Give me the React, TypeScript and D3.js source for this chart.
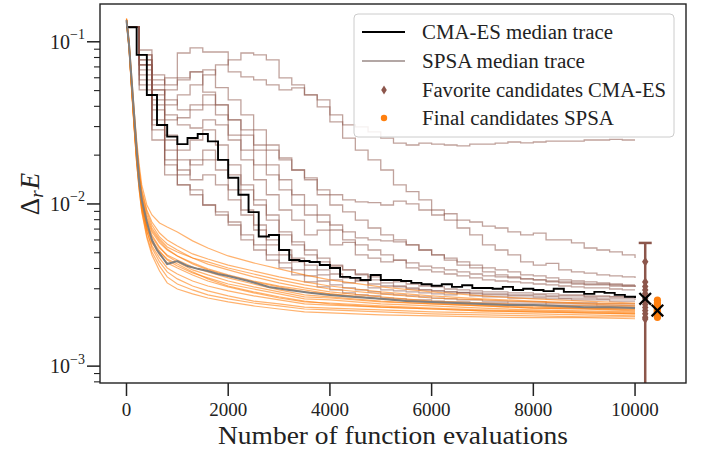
import React from 'react';
import * as d3 from 'd3';

const W = 702;
const H = 454;
const PL = 100, PR = 686, PT = 4, PB = 383;

const xDomain = [-521, 11002];
const yDomain = [7.87e-4, 0.171];
const xTicks = [0, 2000, 4000, 6000, 8000, 10000];
const yMajorExp = [-3, -2, -1];

// CMA-ES traces: one value per generation block of 250 evaluations (0..10000)
const CMA_STEP = 250;
const cmaT1 = [0.123,0.0720,0.0542,0.0599,0.0853,0.0916,0.0865,0.0865,0.0652,0.0608,0.0582,0.0542,0.0505,0.0520,0.0470,0.0438,0.0354,0.0307,0.0299,0.0278,0.0255,0.0237,0.0231,0.0237,0.0234,0.0231,0.0228,0.0234,0.0234,0.0237,0.0241,0.0238,0.0241,0.0244,0.0244,0.0244,0.0248,0.0248,0.0250,0.0248,0.0248];
const cmaT2 = [0.123,0.0830,0.0625,0.0542,0.0599,0.0652,0.0490,0.0408,0.0330,0.0286,0.0231,0.0215,0.0192,0.0162,0.0145,0.0122,0.0114,0.0106,0.0103,0.0102,0.00985,0.0104,0.0100,0.00918,0.00855,0.00870,0.00796,0.00774,0.00731,0.00711,0.00672,0.00644,0.00660,0.00600,0.00600,0.00575,0.00535,0.00520,0.00506,0.00485,0.00464];
const cmaT3 = [0.123,0.0773,0.0505,0.0408,0.0470,0.0542,0.0625,0.0720,0.0773,0.0853,0.0830,0.0773,0.0599,0.0542,0.0470,0.0397,0.0321,0.0255,0.0215,0.0187,0.0162,0.0131,0.0119,0.0106,0.00918,0.00796,0.00711,0.00644,0.00559,0.00520,0.00485,0.00439,0.00420,0.00430,0.00392,0.00381,0.00375,0.00365,0.00360,0.00355,0.00350];
const cmaT4 = [0.123,0.0720,0.0470,0.0505,0.0582,0.0652,0.0671,0.0521,0.0438,0.0354,0.0286,0.0231,0.0187,0.0162,0.0141,0.0114,0.00985,0.00893,0.00796,0.00711,0.00644,0.00600,0.00559,0.00520,0.00485,0.00464,0.00439,0.00420,0.00403,0.00392,0.00381,0.00365,0.00360,0.00350,0.00340,0.00335,0.00331,0.00326,0.00321,0.00317,0.00317];
const cmaT5 = [0.123,0.0890,0.0505,0.0354,0.0307,0.0294,0.0330,0.0307,0.0248,0.0187,0.0141,0.0114,0.00918,0.00796,0.00644,0.00690,0.00559,0.00580,0.00485,0.00464,0.00439,0.00450,0.00403,0.00392,0.00381,0.00370,0.00360,0.00350,0.00340,0.00335,0.00331,0.00326,0.00321,0.00317,0.00312,0.00308,0.00304,0.00304,0.00299,0.00295,0.00295];
const cmaT6 = [0.123,0.0671,0.0380,0.0266,0.0215,0.0248,0.0286,0.0231,0.0174,0.0131,0.0106,0.00855,0.00644,0.00559,0.00485,0.00439,0.00414,0.00392,0.00370,0.00355,0.00340,0.00331,0.00321,0.00312,0.00308,0.00299,0.00295,0.00291,0.00287,0.00287,0.00283,0.00283,0.00279,0.00279,0.00275,0.00275,0.00271,0.00271,0.00267,0.00267,0.00263];
const cmaT7 = [0.123,0.0582,0.0330,0.0215,0.0162,0.0141,0.0151,0.0131,0.0106,0.00855,0.00691,0.00559,0.00485,0.00439,0.00392,0.00365,0.00340,0.00326,0.00340,0.00304,0.00295,0.00291,0.00287,0.00283,0.00279,0.00275,0.00285,0.00271,0.00267,0.00267,0.00263,0.00263,0.00263,0.00260,0.00260,0.00256,0.00256,0.00256,0.00252,0.00252,0.00252];
const cmaT8 = [0.123,0.0625,0.0307,0.0187,0.0131,0.0122,0.00985,0.00855,0.00742,0.00600,0.00520,0.00451,0.00403,0.00365,0.00331,0.00308,0.00295,0.00283,0.00275,0.00271,0.00263,0.00260,0.00256,0.00256,0.00252,0.00249,0.00249,0.00245,0.00245,0.00245,0.00242,0.00242,0.00242,0.00238,0.00238,0.00238,0.00238,0.00235,0.00235,0.00235,0.00235];
const cmaT9 = [0.123,0.0773,0.0438,0.0330,0.0340,0.0380,0.0408,0.0354,0.0266,0.0215,0.0174,0.0151,0.0122,0.00985,0.00855,0.00774,0.00691,0.00600,0.00559,0.00520,0.00485,0.00451,0.00433,0.00414,0.00403,0.00392,0.00381,0.00370,0.00360,0.00355,0.00350,0.00345,0.00340,0.00335,0.00331,0.00326,0.00321,0.00321,0.00317,0.00312,0.00308];
const cmaT10 = [0.123,0.0542,0.0286,0.0174,0.0151,0.0187,0.0215,0.0187,0.0151,0.0122,0.00985,0.00796,0.00672,0.00583,0.00520,0.00464,0.00420,0.00392,0.00365,0.00340,0.00326,0.00312,0.00304,0.00295,0.00291,0.00287,0.00283,0.00279,0.00275,0.00275,0.00271,0.00271,0.00267,0.00267,0.00263,0.00263,0.00263,0.00260,0.00260,0.00260,0.00256];
const cmaT11 = [0.123,0.0830,0.0582,0.0438,0.0380,0.0408,0.0470,0.0408,0.0330,0.0266,0.0215,0.0174,0.0141,0.0114,0.00985,0.00855,0.00742,0.00672,0.00617,0.00600,0.00592,0.00583,0.00559,0.00520,0.00485,0.00451,0.00420,0.00403,0.00381,0.00365,0.00355,0.00345,0.00340,0.00331,0.00326,0.00321,0.00317,0.00317,0.00312,0.00312,0.00308];
const cmaT12 = [0.123,0.0720,0.0408,0.0248,0.0187,0.0174,0.0187,0.0162,0.0122,0.00918,0.00742,0.00600,0.00520,0.00464,0.00420,0.00392,0.00370,0.00350,0.00335,0.00321,0.00312,0.00308,0.00299,0.00295,0.00291,0.00287,0.00283,0.00283,0.00279,0.00279,0.00275,0.00275,0.00275,0.00271,0.00271,0.00271,0.00267,0.00267,0.00267,0.00267,0.00267];
const cmaT13 = [0.123,0.0505,0.0248,0.0151,0.0131,0.0114,0.00985,0.00893,0.00774,0.00644,0.00559,0.00485,0.00433,0.00392,0.00360,0.00335,0.00317,0.00304,0.00295,0.00287,0.00279,0.00275,0.00271,0.00267,0.00263,0.00260,0.00256,0.00256,0.00252,0.00252,0.00249,0.00249,0.00249,0.00245,0.00245,0.00245,0.00245,0.00242,0.00242,0.00242,0.00242];
const cmaTraces = [cmaT1, cmaT2, cmaT3, cmaT4, cmaT5, cmaT6, cmaT7, cmaT8, cmaT9, cmaT10, cmaT11, cmaT12, cmaT13];

// CMA-ES median trace, one value per 200 evaluations
const MED_STEP = 200;
const cmaMedian = [0.123,0.083,0.047,0.0307,0.026,0.0234,0.0255,0.027,0.0243,0.0187,0.0145,0.0114,0.0089,0.0063,0.00644,0.0052,0.00451,0.00445,0.00439,0.0042,0.00403,0.00355,0.0035,0.0034,0.00365,0.0034,0.0034,0.00335,0.00326,0.0032,0.00313,0.0032,0.00308,0.00315,0.00303,0.00303,0.003,0.00308,0.00295,0.003,0.00295,0.0029,0.003,0.00287,0.00287,0.00279,0.00287,0.00283,0.00275,0.00268,0.00263];

// SPSA traces
const spsaEvals = [0,50,100,150,200,250,300,400,500,650,800,1000,1300,1600,2000,2500,3000,3500,4000,5000,6000,7000,8000,9000,10000];
const spsaO1 = [0.140,0.103,0.0625,0.0380,0.0248,0.0174,0.0131,0.00985,0.00855,0.00763,0.00721,0.00672,0.00592,0.00535,0.00478,0.00433,0.00398,0.00365,0.00340,0.00308,0.00287,0.00271,0.00260,0.00252,0.00245];
const spsaO2 = [0.136,0.0997,0.0599,0.0369,0.0231,0.0162,0.0122,0.00918,0.00774,0.00662,0.00600,0.00551,0.00492,0.00458,0.00420,0.00386,0.00355,0.00331,0.00312,0.00287,0.00271,0.00260,0.00252,0.00245,0.00242];
const spsaO3 = [0.134,0.0956,0.0566,0.0340,0.0215,0.0151,0.0114,0.00855,0.00711,0.00608,0.00543,0.00506,0.00464,0.00439,0.00403,0.00370,0.00340,0.00317,0.00299,0.00279,0.00263,0.00256,0.00249,0.00242,0.00235];
const spsaO4 = [0.138,0.0969,0.0582,0.0354,0.0222,0.0158,0.0119,0.00893,0.00742,0.00626,0.00567,0.00520,0.00464,0.00426,0.00392,0.00355,0.00326,0.00304,0.00287,0.00267,0.00252,0.00245,0.00238,0.00235,0.00231];
const spsaO5 = [0.136,0.0942,0.0542,0.0330,0.0200,0.0141,0.0106,0.00796,0.00672,0.00575,0.00520,0.00478,0.00426,0.00392,0.00360,0.00331,0.00308,0.00287,0.00279,0.00260,0.00249,0.00242,0.00235,0.00228,0.00225];
const spsaO6 = [0.132,0.0916,0.0520,0.0307,0.0192,0.0135,0.0102,0.00742,0.00626,0.00535,0.00485,0.00451,0.00408,0.00381,0.00350,0.00321,0.00295,0.00275,0.00267,0.00252,0.00242,0.00235,0.00228,0.00225,0.00222];
const spsaO7 = [0.136,0.0969,0.0558,0.0330,0.0209,0.0145,0.0109,0.00774,0.00644,0.00543,0.00478,0.00439,0.00392,0.00365,0.00335,0.00308,0.00287,0.00267,0.00263,0.00249,0.00242,0.00235,0.00228,0.00225,0.00219];
const spsaO8 = [0.134,0.0929,0.0527,0.0312,0.0195,0.0137,0.0100,0.00711,0.00600,0.00513,0.00451,0.00414,0.00375,0.00350,0.00321,0.00299,0.00279,0.00260,0.00256,0.00242,0.00235,0.00228,0.00222,0.00219,0.00216];
const spsaO9 = [0.138,0.0983,0.0550,0.0321,0.0197,0.0139,0.0103,0.00731,0.00583,0.00485,0.00433,0.00403,0.00365,0.00335,0.00308,0.00283,0.00263,0.00249,0.00245,0.00235,0.00228,0.00222,0.00219,0.00216,0.00213];
const spsaO10 = [0.132,0.0903,0.0505,0.0294,0.0181,0.0126,0.00944,0.00672,0.00551,0.00464,0.00403,0.00370,0.00335,0.00312,0.00291,0.00271,0.00256,0.00242,0.00238,0.00231,0.00225,0.00219,0.00216,0.00213,0.00210];
const spsaO11 = [0.136,0.0942,0.0534,0.0307,0.0187,0.0130,0.00957,0.00682,0.00535,0.00439,0.00381,0.00345,0.00312,0.00291,0.00271,0.00252,0.00242,0.00231,0.00228,0.00222,0.00216,0.00213,0.00210,0.00207,0.00204];
const spsaO12 = [0.134,0.0916,0.0512,0.0299,0.0179,0.0122,0.00905,0.00635,0.00506,0.00414,0.00355,0.00321,0.00295,0.00275,0.00260,0.00245,0.00235,0.00225,0.00222,0.00216,0.00210,0.00207,0.00204,0.00201,0.00201];
const spsaO13 = [0.136,0.0956,0.0527,0.0303,0.0181,0.0122,0.00893,0.00617,0.00485,0.00386,0.00326,0.00299,0.00279,0.00263,0.00249,0.00235,0.00225,0.00216,0.00213,0.00207,0.00204,0.00201,0.00199,0.00199,0.00196];
const spsaO14 = [0.132,0.0929,0.0534,0.0316,0.0192,0.0133,0.00985,0.00711,0.00575,0.00506,0.00458,0.00426,0.00381,0.00345,0.00312,0.00287,0.00267,0.00252,0.00242,0.00231,0.00225,0.00219,0.00216,0.00213,0.00210];
const spsaO15 = [0.138,0.0983,0.0574,0.0344,0.0215,0.0149,0.0112,0.00820,0.00691,0.00592,0.00527,0.00478,0.00433,0.00398,0.00365,0.00335,0.00312,0.00295,0.00279,0.00260,0.00245,0.00238,0.00231,0.00228,0.00225];
const spsaTraces = [spsaO1, spsaO2, spsaO3, spsaO4, spsaO5, spsaO6, spsaO7, spsaO8, spsaO9, spsaO10, spsaO11, spsaO12, spsaO13, spsaO14, spsaO15];

const spsaMedianEvals = [0,50,100,150,200,250,300,400,500,600,700,800,1000,1200,1400,1600,1800,2000,2400,2800,3200,3600,4000,4500,5000,5500,6000,6500,7000,7500,8000,8500,9000,9500,10000];
const spsaMedian = [0.136,0.0956,0.0582,0.0354,0.0215,0.0137,0.0106,0.00774,0.0060,0.0052,0.00471,0.00426,0.00445,0.00414,0.00398,0.00386,0.0037,0.0036,0.00335,0.00308,0.00295,0.00283,0.00275,0.00267,0.0026,0.00252,0.00249,0.00245,0.00242,0.00238,0.00238,0.00235,0.00231,0.00231,0.00228];

// Final candidates
const cmaFavX = 10200;
const cmaFavorites = [4.4e-3, 3.3e-3, 3.1e-3, 2.95e-3, 2.8e-3, 2.7e-3, 2.6e-3, 2.5e-3, 2.4e-3, 2.3e-3, 2.2e-3, 2.1e-3, 2.0e-3, 1.95e-3];
const cmaMean = 2.6e-3;
const cmaStd = 3.15e-3;
const spsaFinalX = 10440;
const spsaFinals = [2.55e-3, 2.45e-3, 2.4e-3, 2.35e-3, 2.3e-3, 2.25e-3, 2.22e-3, 2.2e-3, 2.18e-3, 2.15e-3, 2.1e-3, 2.06e-3, 2.02e-3, 2.0e-3];
const spsaMean = 2.2e-3;

const legendLabels = ['CMA-ES median trace', 'SPSA median trace', 'Favorite candidates CMA-ES', 'Final candidates SPSA'];
const legendWidths = [191, 163, 244, 192];

const BROWN = '#8c564b';
const ORANGE = '#ff7f0e';
const INK = '#222222';
const FONT = "'Liberation Serif', 'DejaVu Serif', serif";

export default function App() {
  const x = d3.scaleLinear().domain(xDomain).range([PL, PR]);
  const y = d3.scaleLog().domain(yDomain).range([PB, PT]);

  const stepLine = d3.line<[number, number]>().x(d => x(d[0])).y(d => y(d[1])).curve(d3.curveStepAfter);
  const lin = d3.line<[number, number]>().x(d => x(d[0])).y(d => y(d[1]));

  const minorTicks: number[] = [];
  for (let e = -4; e <= -1; e++) {
    for (let m = 2; m <= 9; m++) {
      const v = m * Math.pow(10, e);
      if (v > yDomain[0] && v < yDomain[1]) minorTicks.push(v);
    }
  }

  const xMark = (cx: number, cy: number, s: number, key: string) => (
    <g key={key} stroke="#000" strokeWidth={2.2}>
      <line x1={cx - s} y1={cy - s} x2={cx + s} y2={cy + s} />
      <line x1={cx - s} y1={cy + s} x2={cx + s} y2={cy - s} />
    </g>
  );
  const diamond = (cx: number, cy: number, w: number, h: number) =>
    `M${cx},${cy - h} L${cx + w},${cy} L${cx},${cy + h} L${cx - w},${cy} Z`;

  const errTop = y(cmaMean + cmaStd);
  const lowVal = cmaMean - cmaStd;
  const errBot = lowVal > yDomain[0] ? y(lowVal) : PB;

  const legX = 354, legY = 14, rowY = [32, 61, 90, 118];
  const tf = { fontFamily: FONT };

  return (
    <svg width={W} height={H} style={{ position: 'absolute', left: 0, top: 0, background: '#fff' }}>
      <defs>
        <clipPath id="plotclip">
          <rect x={PL} y={PT} width={PR - PL} height={PB - PT} />
        </clipPath>
      </defs>
      <rect x={0} y={0} width={W} height={H} fill="#fff" />
      <g clipPath="url(#plotclip)">
        {cmaTraces.map((t, i) => (
          <path key={'c' + i} d={stepLine(t.map((v, j) => [j * CMA_STEP, v] as [number, number])) || ''}
            fill="none" stroke={BROWN} strokeOpacity={0.55} strokeWidth={1.3} />
        ))}
        {spsaTraces.map((t, i) => (
          <path key={'s' + i} d={lin(t.map((v, j) => [spsaEvals[j], v] as [number, number])) || ''}
            fill="none" stroke={ORANGE} strokeOpacity={0.6} strokeWidth={1.2} />
        ))}
        <path d={stepLine(cmaMedian.map((v, j) => [j * MED_STEP, v] as [number, number])) || ''}
          fill="none" stroke="#000" strokeWidth={1.9} />
        <path d={lin(spsaMedian.map((v, j) => [spsaMedianEvals[j], v] as [number, number])) || ''}
          fill="none" stroke="#7f7f7f" strokeWidth={2} />
        <line x1={x(cmaFavX)} x2={x(cmaFavX)} y1={errTop} y2={errBot} stroke={BROWN} strokeWidth={2.5} />
        <line x1={x(cmaFavX) - 6.5} x2={x(cmaFavX) + 6.5} y1={errTop} y2={errTop} stroke={BROWN} strokeWidth={2.5} />
        {cmaFavorites.map((v, i) => (
          <path key={'d' + i} d={diamond(x(cmaFavX), y(v), 3.2, 4.8)} fill={BROWN} />
        ))}
        {spsaFinals.map((v, i) => (
          <circle key={'o' + i} cx={x(spsaFinalX)} cy={y(v)} r={3.6} fill={ORANGE} />
        ))}
        {xMark(x(cmaFavX), y(cmaMean), 5.8, 'xm1')}
        {xMark(x(spsaFinalX), y(spsaMean), 5.8, 'xm2')}
      </g>

      <rect x={PL} y={PT} width={PR - PL} height={PB - PT} fill="none" stroke={INK} strokeWidth={1.4} />

      {xTicks.map(t => (
        <g key={'xt' + t}>
          <line x1={x(t)} x2={x(t)} y1={PB} y2={PB + 13} stroke={INK} strokeWidth={1.5} />
          <text x={x(t)} y={416} textAnchor="middle" fontSize={19} fill={INK} style={tf}>{t}</text>
        </g>
      ))}
      {yMajorExp.map(e => {
        const yy = y(Math.pow(10, e));
        return (
          <g key={'yt' + e}>
            <line x1={PL - 13} x2={PL} y1={yy} y2={yy} stroke={INK} strokeWidth={1.5} />
            <text x={PL - 15} y={yy + 7} textAnchor="end" fontSize={20} fill={INK} style={tf}>
              10<tspan fontSize={14} dy={-9.5}>{'\u2212' + Math.abs(e)}</tspan>
            </text>
          </g>
        );
      })}
      {minorTicks.map((v, i) => (
        <line key={'ym' + i} x1={PL - 6} x2={PL} y1={y(v)} y2={y(v)} stroke={INK} strokeWidth={1.1} />
      ))}

      <text x={(PL + PR) / 2} y={444} textAnchor="middle" fontSize={26} fill={INK} style={tf} textLength={350} lengthAdjust="spacingAndGlyphs">
        Number of function evaluations
      </text>
      <text transform="translate(39,194) rotate(-90)" textAnchor="middle" fontSize={27} fill={INK} style={tf}>
        {'\u0394'}<tspan fontStyle="italic" fontSize={19} dy={4}>r</tspan><tspan fontStyle="italic" dy={-4} dx={1}>E</tspan>
      </text>

      <rect x={legX} y={legY} width={320} height={123} rx={4} fill="#fff" fillOpacity={0.85} stroke="#cccccc" strokeWidth={1} />
      <line x1={362} x2={405} y1={rowY[0]} y2={rowY[0]} stroke="#000" strokeWidth={1.9} />
      <line x1={362} x2={405} y1={rowY[1]} y2={rowY[1]} stroke="#9a8a87" strokeWidth={1.3} />
      <path d={diamond(384, rowY[2], 2.8, 4.5)} fill={BROWN} />
      <circle cx={384} cy={rowY[3]} r={3.2} fill={ORANGE} />
      {legendLabels.map((l, i) => (
        <text key={'lg' + i} x={422} y={rowY[i] + 6.5} fontSize={20} fill={INK} style={tf} textLength={legendWidths[i]} lengthAdjust="spacingAndGlyphs">{l}</text>
      ))}
    </svg>
  );
}
